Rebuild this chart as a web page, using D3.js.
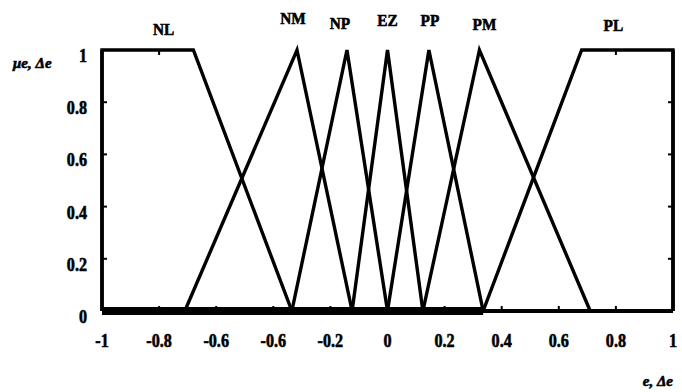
<!DOCTYPE html>
<html><head><meta charset="utf-8">
<script src="https://cdn.jsdelivr.net/npm/d3@7"></script>
<style>body{margin:0;background:#fff}svg{display:block}</style>
</head><body>
<svg id="chart" width="682" height="392"></svg>
<script>
// Fuzzy sets on the normalised universe [-1, 1]
const setNames = ["NL", "NM", "NP", "EZ", "PP", "PM", "PL"];
// trapezoid parameters a <= b <= c <= d (triangles have b == c)
const setA = [-1, -0.71, -0.335, -0.124, 0, 0.124, 0.335];
const setB = [-1, -0.317, -0.142, 0, 0.145, 0.322, 0.68];
const setC = [-0.68, -0.317, -0.142, 0, 0.145, 0.322, 1];
const setD = [-0.335, -0.124, 0, 0.124, 0.335, 0.71, 1];

const xTicks = [-1, -0.8, -0.6, -0.4, -0.2, 0, 0.2, 0.4, 0.6, 0.8, 1];
const xTickLabels = ["-1", "-0.8", "-0.6", "-0.6", "-0.2", "0", "0.2", "0.4", "0.6", "0.8", "1"];
const yTicks = [0, 0.2, 0.4, 0.6, 0.8, 1];
const yTickLabels = ["0", "0.2", "0.4", "0.6", "0.8", "1"];

const svg = d3.select("#chart");
const x = d3.scaleLinear().domain([-1, 1]).range([102, 673]);
const y = d3.scaleLinear().domain([0, 1]).range([311, 50]);
const font = "'Liberation Serif', 'Times New Roman', serif";

// label nudges (px) so the set names sit over their peaks / plateaus
const labelDx = [16, -4, -7, 0, 1, 5, -14];
const labelY = [35, 24, 29, 26, 26, 30, 31];

// axes with inward ticks
const axisG = svg.append("g").attr("stroke", "#000").attr("fill", "none");
axisG.append("line").attr("x1", x(-1)).attr("x2", x(1)).attr("y1", y(0)).attr("y2", y(0)).attr("stroke-width", 4);
axisG.append("line").attr("x1", x(-1)).attr("x2", x(-1)).attr("y1", y(0)).attr("y2", y(1)).attr("stroke-width", 3.5);
axisG.append("line").attr("x1", x(1)).attr("x2", x(1)).attr("y1", y(0)).attr("y2", y(1)).attr("stroke-width", 3.5);

axisG.selectAll("line.xt").data(xTicks.slice(1, -1)).join("line").attr("class", "xt")
  .attr("x1", d => x(d)).attr("x2", d => x(d)).attr("y1", y(0)).attr("y2", y(0) - 5).attr("stroke-width", 2);
// top ticks only where a plateau forms the upper edge
const plateau = d => (d >= setB[0] && d <= setC[0]) || (d >= setB[6] && d <= setC[6]);
axisG.selectAll("line.tt").data(xTicks.slice(1, -1).filter(plateau)).join("line").attr("class", "tt")
  .attr("x1", d => x(d)).attr("x2", d => x(d)).attr("y1", y(1)).attr("y2", y(1) + 5).attr("stroke-width", 2);
axisG.selectAll("line.yl").data(yTicks.slice(1, -1)).join("line").attr("class", "yl")
  .attr("x1", x(-1)).attr("x2", x(-1) + 5).attr("y1", d => y(d)).attr("y2", d => y(d)).attr("stroke-width", 2);
axisG.selectAll("line.yr").data(yTicks.slice(1, -1)).join("line").attr("class", "yr")
  .attr("x1", x(1)).attr("x2", x(1) - 5).attr("y1", d => y(d)).attr("y2", d => y(d)).attr("stroke-width", 2);

// membership functions
const line = d3.line().x(d => x(d[0])).y(d => y(d[1]));
const sets = setNames.map((n, i) => ({
  name: n,
  pts: [[setA[i], 0], [setB[i], 1], [setC[i], 1], [setD[i], 0]]
}));
svg.append("g").selectAll("path").data(sets).join("path")
  .attr("d", d => line(d.pts))
  .attr("fill", "none").attr("stroke", "#000").attr("stroke-width", 3.4)
  .attr("stroke-linejoin", "miter");

// zero tail of PL lies on the axis and thickens it up to PL's foot
const last = setNames.length - 1;
svg.append("path")
  .attr("d", line([[-1, 0], [setA[last], 0]]))
  .attr("stroke", "#000").attr("stroke-width", 8).attr("fill", "none");

// heavy bold text helper
const heavy = sel => sel
  .attr("font-family", font).attr("font-weight", "bold")
  .attr("fill", "#000").attr("stroke", "#000").attr("stroke-width", 0.6);

// set names
svg.append("g").selectAll("text").data(sets).join("text")
  .attr("transform", (d, i) => `translate(${x((setB[i] + setC[i]) / 2) + labelDx[i]},${labelY[i]}) scale(0.9,1)`)
  .attr("text-anchor", "middle").attr("font-size", 17)
  .call(heavy)
  .text(d => d.name);

// tick labels
svg.append("g").selectAll("text").data(xTicks).join("text")
  .attr("transform", d => `translate(${x(d)},347) scale(0.85,1)`)
  .attr("text-anchor", "middle").attr("font-size", 19)
  .call(heavy)
  .text((d, i) => xTickLabels[i]);
svg.append("g").selectAll("text").data(yTicks).join("text")
  .attr("transform", d => `translate(87,${y(d) + 12}) scale(0.85,1)`)
  .attr("text-anchor", "end").attr("font-size", 19)
  .call(heavy)
  .text((d, i) => yTickLabels[i]);

// axis titles
svg.append("text").attr("x", 13).attr("y", 68)
  .attr("font-style", "italic").attr("font-size", 15)
  .call(heavy)
  .text("μe, Δe");
svg.append("text").attr("x", 673).attr("y", 386).attr("text-anchor", "end")
  .attr("font-style", "italic").attr("font-size", 15)
  .call(heavy)
  .text("e, Δe");
</script>
</body></html>
